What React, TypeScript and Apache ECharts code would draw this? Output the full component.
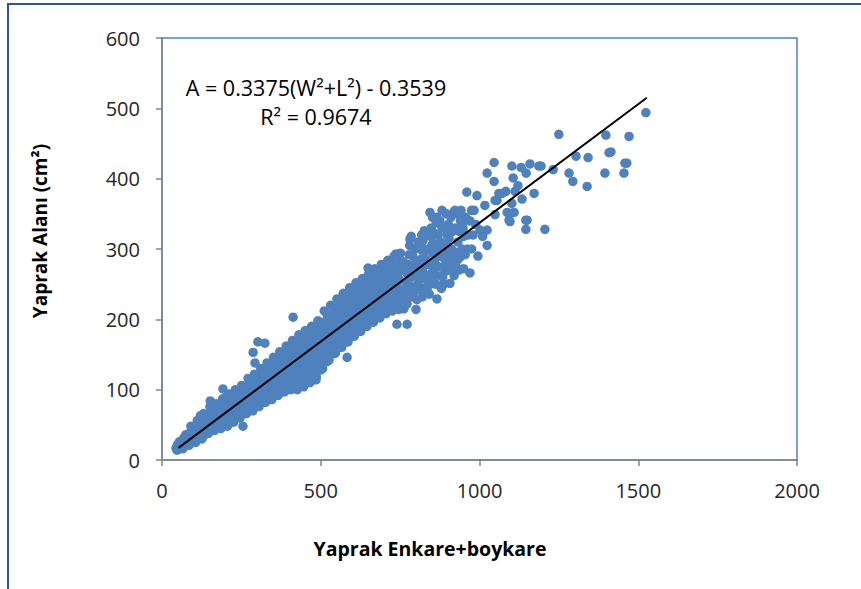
import { useEffect, useRef } from 'react';
import * as echarts from 'echarts';

// Regression line reported for the data set
const SLOPE = 0.3375;
const INTERCEPT = -0.3539;
const R_SQUARED = 0.9674;
const TREND_X_RANGE = [52, 1527];

const X_TICKS = [0, 500, 1000, 1500, 2000];
const Y_TICKS = [0, 100, 200, 300, 400, 500, 600];

// [W²+L², leaf area (cm²)]
const smallLeaves: [number, number][] = [
  [47, 14], [52, 18], [49, 22], [55, 26], [58, 16], [44, 17], [60, 20], [60, 25],
  [66, 16], [70, 21], [73, 26], [68, 31], [75, 36], [62, 19], [78, 23], [80, 22], [82, 28], [78, 34],
  [86, 21], [90, 27], [93, 33], [88, 39], [95, 44], [91, 48], [82, 25], [98, 30],
  [100, 26], [102, 33], [98, 40], [100, 46],
  [106, 25], [110, 32], [113, 39], [108, 45], [115, 51], [111, 56], [102, 29], [118, 36],
  [120, 31], [122, 38], [118, 45], [120, 52], [122, 58],
  [126, 30], [130, 38], [133, 46], [128, 53], [135, 60], [131, 66], [122, 35], [138, 42], [121, 63],
  [140, 37], [142, 44], [138, 51], [140, 58], [142, 64],
  [146, 38], [150, 46], [153, 54], [148, 62], [155, 69], [151, 76], [142, 44], [158, 50], [152, 84],
  [160, 43], [162, 50], [158, 57], [160, 64], [162, 71],
  [166, 42], [170, 50], [173, 58], [168, 65], [175, 72], [171, 80], [162, 48], [178, 55],
  [180, 47], [182, 55], [178, 62], [180, 69], [182, 76],
  [186, 45], [190, 54], [193, 62], [188, 70], [195, 78], [191, 87], [182, 52], [198, 60], [192, 101],
  [200, 50], [202, 58], [198, 66], [200, 73], [202, 81],
  [206, 48], [210, 57], [213, 66], [208, 75], [215, 84], [211, 94], [202, 55], [218, 64], [205, 90],
  [220, 54], [222, 62], [218, 70], [220, 78], [222, 86],
  [226, 54], [230, 63], [233, 72], [228, 81], [235, 90], [231, 100], [222, 60], [238, 70], [240, 95],
  [240, 60], [242, 68], [238, 76], [240, 84], [242, 92],
  [246, 60], [250, 69], [253, 78], [248, 87], [255, 96], [251, 106], [242, 66], [258, 76], [262, 104], [255, 48],
  [260, 66], [262, 74], [258, 83], [260, 91], [262, 99],
  [266, 66], [270, 75], [273, 84], [268, 94], [275, 104], [271, 116], [262, 72], [278, 82], [280, 110],
  [280, 71], [282, 80], [278, 88], [280, 97], [282, 105], [278, 112],
];

const mediumLeaves: [number, number][] = [
  [286, 70], [290, 80], [293, 90], [288, 100], [295, 110], [291, 122], [282, 76], [298, 86], [300, 116], [287, 153], [293, 138],
  [300, 76], [302, 85], [298, 93], [300, 102], [302, 110], [298, 118],
  [306, 76], [310, 86], [313, 96], [308, 107], [315, 118], [311, 130], [302, 82], [318, 92], [320, 124], [302, 168], [324, 166],
  [320, 82], [322, 91], [318, 100], [320, 109], [322, 118], [318, 126],
  [326, 82], [330, 92], [333, 103], [328, 114], [335, 125], [331, 138], [322, 88], [338, 98], [340, 132],
  [340, 87], [342, 96], [338, 106], [340, 115], [342, 124], [338, 133],
  [346, 86], [350, 97], [353, 108], [348, 120], [355, 132], [351, 146], [342, 92], [358, 104], [360, 140],
  [360, 92], [362, 102], [358, 111], [360, 121], [362, 130], [358, 140],
  [366, 92], [370, 103], [373, 115], [368, 127], [375, 139], [371, 154], [362, 98], [378, 110], [380, 148],
  [380, 97], [382, 107], [378, 117], [380, 127], [382, 137], [378, 147],
  [386, 97], [390, 109], [393, 121], [388, 134], [395, 147], [391, 162], [382, 104], [398, 116], [400, 155],
  [400, 102], [402, 112], [398, 122], [400, 132], [402, 142], [398, 152], [400, 160],
  [406, 100], [410, 113], [413, 126], [408, 140], [415, 154], [411, 170], [402, 108], [418, 120], [420, 162], [413, 203],
  [420, 104], [422, 114], [418, 125], [420, 135], [422, 146], [418, 156], [420, 166],
  [426, 100], [430, 114], [433, 128], [428, 143], [435, 158], [431, 178], [422, 106], [438, 122], [440, 168],
  [440, 106], [442, 117], [438, 128], [440, 139], [442, 150], [438, 161], [440, 172],
  [446, 104], [450, 118], [453, 133], [448, 148], [455, 163], [451, 184], [442, 112], [458, 127], [460, 174],
  [460, 111], [462, 122], [458, 133], [460, 144], [462, 156], [458, 167], [460, 178],
  [466, 110], [470, 124], [473, 139], [468, 154], [475, 169], [471, 190], [462, 118], [478, 133], [480, 180], [485, 114],
  [480, 118], [482, 130], [478, 141], [480, 152], [482, 164], [478, 175], [480, 186],
  [486, 118], [490, 132], [493, 147], [488, 162], [495, 177], [491, 198], [482, 126], [498, 140], [500, 188],
  [500, 128], [502, 139], [498, 151], [500, 162], [502, 174], [498, 185], [500, 196],
  [506, 130], [510, 143], [513, 157], [508, 171], [515, 185], [511, 212], [502, 136], [518, 150], [520, 199],
  [520, 140], [522, 151], [518, 162], [520, 174], [522, 186], [518, 197], [520, 207],
  [526, 142], [530, 154], [533, 167], [528, 180], [535, 193], [531, 220], [522, 148], [538, 160], [540, 207],
  [540, 151], [542, 162], [538, 173], [540, 184], [542, 196], [538, 206], [540, 216],
  [546, 152], [550, 164], [553, 176], [548, 189], [555, 202], [551, 229], [542, 158], [558, 170], [560, 215],
  [560, 160], [562, 171], [558, 182], [560, 193], [562, 204], [558, 214], [560, 224],
];

const largeLeaves: [number, number][] = [
  [566, 160], [570, 172], [573, 184], [568, 197], [575, 210], [571, 237], [562, 166], [578, 178], [580, 223], [583, 146],
  [580, 168], [582, 179], [578, 190], [580, 201], [582, 212], [578, 222], [580, 232],
  [586, 168], [590, 180], [593, 192], [588, 205], [595, 218], [591, 245], [582, 174], [598, 186], [600, 231],
  [600, 176], [602, 187], [598, 198], [600, 209], [602, 220], [598, 230], [600, 240],
  [606, 176], [610, 188], [613, 200], [608, 213], [615, 226], [611, 252], [602, 182], [618, 194], [620, 239],
  [620, 184], [622, 195], [618, 206], [620, 217], [622, 228], [618, 238], [620, 248],
  [626, 183], [630, 195], [633, 207], [628, 220], [635, 233], [631, 258], [622, 189], [638, 201], [640, 246], [633, 250],
  [640, 190], [642, 201], [638, 212], [640, 223], [642, 234], [638, 244], [640, 254],
  [646, 190], [650, 202], [653, 214], [648, 227], [655, 240], [651, 265], [642, 196], [658, 208], [660, 253], [649, 273],
  [660, 197], [662, 208], [658, 219], [660, 230], [662, 241], [658, 251], [660, 261],
  [666, 196], [670, 208], [673, 221], [668, 234], [675, 247], [671, 272], [662, 202], [678, 215], [680, 260],
  [680, 203], [682, 214], [678, 225], [680, 236], [682, 247], [678, 257], [680, 267],
  [686, 202], [690, 214], [693, 227], [688, 240], [695, 253], [691, 278], [682, 208], [698, 221], [700, 266],
  [700, 209], [702, 220], [698, 231], [700, 242], [702, 253], [698, 263], [700, 273],
  [706, 208], [710, 220], [713, 233], [708, 246], [715, 259], [711, 284], [702, 214], [718, 227], [720, 272],
  [720, 214], [722, 225], [718, 236], [720, 247], [722, 258], [718, 268], [720, 279],
  [726, 212], [730, 225], [733, 238], [728, 251], [735, 264], [731, 290], [722, 218], [738, 232], [740, 278],
  [740, 217], [742, 228], [738, 239], [740, 250], [742, 261], [738, 272], [740, 284],
  [746, 214], [750, 228], [753, 242], [748, 256], [755, 270], [751, 294], [742, 221], [758, 235], [760, 282], [740, 193], [737, 293],
  [762, 215], [765, 228], [768, 240], [770, 252], [772, 265], [775, 278], [778, 292], [780, 305], [785, 318], [788, 246], [790, 232], [772, 222], [772, 193], [781, 314],
  [775, 240], [780, 258], [785, 272], [790, 290], [795, 262], [798, 300], [805, 250], [808, 275], [812, 300], [818, 320], [820, 232], [825, 290],
  [795, 240], [798, 280], [802, 265], [808, 310], [815, 245], [820, 270], [826, 300], [832, 285], [836, 245],
  [800, 214], [803, 228], [806, 242], [810, 256], [812, 270], [815, 285], [818, 299], [822, 312], [826, 326], [830, 262], [828, 240],
  [835, 255], [838, 278], [840, 300], [836, 320], [848, 330], [852, 345], [858, 282], [862, 300], [870, 320], [875, 340], [876, 262], [885, 288],
  [846, 318], [850, 305], [856, 270], [862, 250], [866, 345], [872, 290], [878, 310], [882, 330], [888, 250],
  [842, 236], [845, 250], [848, 265], [850, 280], [853, 294], [856, 308], [860, 322], [864, 337], [844, 352], [866, 229], [854, 259], [870, 275], [868, 300],
  [880, 244], [884, 260], [887, 275], [890, 290], [894, 305], [898, 320], [902, 335], [882, 355], [907, 251], [910, 345], [905, 282],
  [892, 268], [898, 300], [904, 315], [910, 290], [915, 270], [925, 330], [932, 285], [942, 355], [948, 330], [956, 345], [962, 300], [975, 355],
  [892, 330], [895, 350], [900, 270], [912, 300], [915, 325], [918, 352], [930, 350], [935, 270], [945, 340], [950, 318], [955, 292],
  [920, 262], [924, 278], [928, 295], [932, 310], [936, 325], [940, 340], [923, 355], [945, 300], [950, 272], [938, 288],
  [960, 341], [960, 381], [970, 266], [975, 300], [980, 320], [983, 355], [992, 376], [1002, 327], [995, 290], [988, 335],
  [965, 320], [970, 340], [1010, 318], [1017, 362], [1024, 305], [1024, 327],
];

const extraLargeLeaves: [number, number][] = [
  [1024, 408], [1046, 423], [1046, 396], [1049, 369], [1049, 349], [1055, 369], [1061, 379], [1071, 379],
  [1083, 382], [1087, 352], [1093, 341], [1096, 351], [1096, 339], [1102, 418], [1102, 365], [1106, 401],
  [1109, 352], [1112, 382], [1121, 390], [1131, 416], [1134, 371], [1146, 341], [1146, 328], [1147, 408],
  [1150, 341], [1159, 421], [1172, 379], [1187, 418], [1194, 418], [1206, 328], [1232, 413], [1250, 463],
  [1282, 408], [1294, 396], [1304, 432], [1339, 389], [1342, 430], [1395, 408], [1398, 462], [1408, 437],
  [1414, 438], [1455, 408], [1458, 422], [1464, 422], [1471, 460], [1524, 494],
];

const FONT = '"Open Sans", "Liberation Sans", sans-serif';
const MARKER_BLUE = '#4f81bd';
const AXIS_GRAY = '#868686';
const LABEL_COLOR = '#262626';

export default function App() {
  const ref = useRef<HTMLDivElement>(null);

  useEffect(() => {
    document.body.style.margin = '0';
    if (!ref.current) return;
    const chart = echarts.init(ref.current, undefined, { renderer: 'svg' });

    const leaves = [...smallLeaves, ...mediumLeaves, ...largeLeaves, ...extraLargeLeaves];
    const trend = TREND_X_RANGE.map((x) => [x, SLOPE * x + INTERCEPT]);

    const axisCommon = {
      type: 'value' as const,
      axisLine: { show: true, onZero: false, lineStyle: { color: AXIS_GRAY, width: 1.5 } },
      axisTick: { show: true, inside: false, length: 6, lineStyle: { color: AXIS_GRAY, width: 1.5 } },
      splitLine: { show: false },
    };

    chart.setOption({
      animation: false,
      textStyle: { fontFamily: FONT },
      grid: {
        left: 162,
        top: 38,
        right: 64,
        bottom: 129,
        show: true,
        borderColor: MARKER_BLUE,
        borderWidth: 1.5,
        backgroundColor: 'transparent',
        outerBoundsMode: 'none',
        containLabel: false,
      },
      xAxis: {
        ...axisCommon,
        min: X_TICKS[0],
        max: X_TICKS[X_TICKS.length - 1],
        interval: X_TICKS[1] - X_TICKS[0],
        axisLabel: {
          fontSize: 20,
          color: LABEL_COLOR,
          margin: 20,
          fontFamily: FONT,
          formatter: (v: number) => String(v),
        },
      },
      yAxis: {
        ...axisCommon,
        min: Y_TICKS[0],
        max: Y_TICKS[Y_TICKS.length - 1],
        interval: Y_TICKS[1] - Y_TICKS[0],
        axisLabel: {
          fontSize: 20,
          color: LABEL_COLOR,
          margin: 22,
          fontFamily: FONT,
          formatter: (v: number) => String(v),
        },
      },
      series: [
        {
          type: 'scatter',
          data: leaves,
          symbol: 'circle',
          symbolSize: 9.5,
          itemStyle: { color: MARKER_BLUE, opacity: 1 },
          z: 2,
        },
        {
          type: 'line',
          data: trend,
          symbol: 'none',
          lineStyle: { color: '#000000', width: 2 },
          z: 3,
        },
      ],
      graphic: [
        {
          type: 'rect',
          shape: { x: 8, y: 4, width: 1000, height: 1000 },
          style: { fill: 'none', stroke: '#2f5597', lineWidth: 2 },
          silent: true,
        },
        {
          type: 'text',
          x: 316,
          y: 87,
          style: {
            text: `A = ${SLOPE}(W²+L²) - ${Math.abs(INTERCEPT)}`,
            fill: '#000000',
            font: `21.5px ${FONT}`,
            align: 'center',
            verticalAlign: 'middle',
          },
        },
        {
          type: 'text',
          x: 316,
          y: 116,
          style: {
            text: `R² = ${R_SQUARED}`,
            fill: '#000000',
            font: `21.5px ${FONT}`,
            align: 'center',
            verticalAlign: 'middle',
          },
        },
        {
          type: 'text',
          x: 430,
          y: 548,
          style: {
            text: 'Yaprak Enkare+boykare',
            fill: '#000000',
            font: `bold 19.5px ${FONT}`,
            align: 'center',
            verticalAlign: 'middle',
          },
        },
        {
          type: 'text',
          x: 40,
          y: 231,
          rotation: Math.PI / 2,
          style: {
            text: 'Yaprak Alanı (cm²)',
            fill: '#000000',
            font: `bold 19px ${FONT}`,
            align: 'center',
            verticalAlign: 'middle',
          },
        },
      ],
    });

    return () => chart.dispose();
  }, []);

  return <div ref={ref} style={{ width: 861, height: 589 }} />;
}
